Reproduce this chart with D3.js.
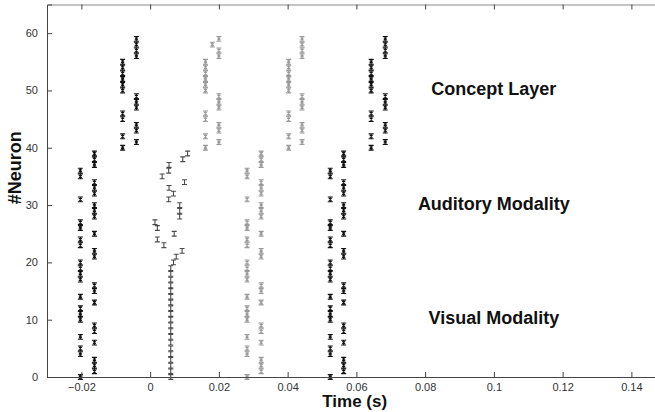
<html>
<head>
<meta charset="utf-8">
<title>Spike raster</title>
<style>
  body { margin: 0; background: #fff; }
  svg { display: block; font-family: 'Liberation Sans', Arial, sans-serif; }
  .tick text { font-size: 11px; fill: #333; }
  .lbl { font-weight: bold; fill: #111; }
</style>
</head>
<body>
<div id="chart"></div>
<script src="https://cdnjs.cloudflare.com/ajax/libs/d3/7.8.5/d3.min.js"></script>
<script>
// neuron groups that fire together (input layer: 0-39, concept layer: 40-59)
const inputFirst = [0, 4, 5, 7, 10, 11, 12, 14, 17, 18, 19, 20, 23, 24, 26, 27, 31, 35, 36]
const inputSecond = [1, 2, 3, 6, 8, 9, 13, 15, 16, 21, 22, 25, 28, 29, 30, 32, 33, 34, 37, 38, 39]
const conceptFirst = [40, 42, 45, 46, 50, 51, 52, 53, 54, 55]
const conceptSecond = [41, 43, 44, 47, 48, 49, 56, 57, 58, 59]

// spike times (s) of each group per presentation
const epochs = ["a", "b", "c"]
const inputFirstTimes = [-0.0203, 0.0282, 0.0524]
const inputSecondTimes = [-0.0162, 0.0323, 0.0563]
const conceptFirstTimes = [-0.0080, 0.0403, 0.0643]
const conceptSecondTimes = [-0.0040, 0.0442, 0.0684]
const epochShade = ["dark", "light", "dark"]

// second presentation: visual neurons 0-19 in one column, auditory ones scattered
const visualNeurons = d3.range(0, 20)
const visualTime = 0.0060
const auditoryNeurons = [20, 21, 22, 23, 24, 25, 26, 27, 28, 29, 30, 31, 32, 33, 34, 35, 36, 37, 38, 39]
const auditoryTimes = [0.0068, 0.0076, 0.0093, 0.0040, 0.0021, 0.0070, 0.0021, 0.0014, 0.0086, 0.0086,
                       0.0086, 0.0054, 0.0068, 0.0055, 0.0100, 0.0035, 0.0054, 0.0055, 0.0095, 0.0109]
const conceptFirstTime2 = 0.0161
const conceptSecondTimes2 = [0.0200, 0.0200, 0.0200, 0.0200, 0.0200, 0.0200, 0.0200, 0.0200, 0.0181, 0.0200]

const xTicks = [-0.02, 0, 0.02, 0.04, 0.06, 0.08, 0.1, 0.12, 0.14]
const yTicks = [0, 10, 20, 30, 40, 50, 60]
const regionLabels = ["Concept Layer", "Auditory Modality", "Visual Modality"]
const regionLabelY = [50, 30, 10]

const shades = { dark: "#111", light: "#9a9a9a", mid: "#4a4a4a" }

// build spike list
const spikes = []
epochs.forEach((e, i) => {
  inputFirst.forEach(n => spikes.push({ t: inputFirstTimes[i], n: n, c: epochShade[i] }))
  inputSecond.forEach(n => spikes.push({ t: inputSecondTimes[i], n: n, c: epochShade[i] }))
  conceptFirst.forEach(n => spikes.push({ t: conceptFirstTimes[i], n: n, c: epochShade[i] }))
  conceptSecond.forEach(n => spikes.push({ t: conceptSecondTimes[i], n: n, c: epochShade[i] }))
})
visualNeurons.forEach(n => spikes.push({ t: visualTime, n: n, c: "mid" }))
auditoryNeurons.forEach((n, i) => spikes.push({ t: auditoryTimes[i], n: n, c: "mid" }))
conceptFirst.forEach(n => spikes.push({ t: conceptFirstTime2, n: n, c: "light" }))
conceptSecond.forEach((n, i) => spikes.push({ t: conceptSecondTimes2[i], n: n, c: "light" }))

const width = 655, height = 412
const margin = { top: 4.5, left: 47, bottom: 35 }

const x = d3.scaleLinear().domain([-0.03, 0.15]).range([margin.left, margin.left + 0.18 * 3437.5])
const y = d3.scaleLinear().domain([0, 65]).range([height - margin.bottom, margin.top])

const svg = d3.select("#chart").append("svg")
  .attr("width", width)
  .attr("height", height)

// spikes: small I-beam marks, the regular columns with a cross inside
const beam = "M-2.5,-2.4H2.5M-2.5,2.4H2.5M0,-2.4V2.4"
const cross = "M-1.5,-1.2L1.5,1.2M-1.5,1.2L1.5,-1.2"
svg.append("g").selectAll("path")
  .data(spikes)
  .join("path")
  .attr("transform", d => `translate(${x(d.t)},${y(d.n)})`)
  .attr("d", d => d.c === "mid" ? beam : beam + cross)
  .attr("fill", "none")
  .attr("stroke", d => shades[d.c])
  .attr("stroke-width", 1.1)

// axes (ticks point inwards)
const xAxis = svg.append("g")
  .attr("transform", `translate(0,${y(0)})`)
  .call(d3.axisBottom(x).tickValues(xTicks).tickSize(-5).tickPadding(6).tickFormat(d3.format("")))
const xTop = svg.append("g")
  .attr("transform", `translate(0,${margin.top})`)
  .call(d3.axisTop(x).tickValues(xTicks).tickSize(-5).tickFormat(""))
const yAxis = svg.append("g")
  .attr("transform", `translate(${margin.left},0)`)
  .call(d3.axisLeft(y).tickValues(yTicks).tickSize(-5).tickPadding(9))

;[xAxis, xTop, yAxis].forEach(g => {
  g.select(".domain").attr("stroke", "#444")
  g.selectAll(".tick line").attr("stroke", "#444")
})
xTop.select(".domain").attr("stroke", "#888")

// axis titles
svg.append("text")
  .attr("class", "lbl")
  .attr("x", x(0.0595))
  .attr("y", 407)
  .attr("text-anchor", "middle")
  .attr("font-size", 17)
  .text("Time (s)")

svg.append("text")
  .attr("class", "lbl")
  .attr("transform", `translate(21,${y(36.5)}) rotate(-90)`)
  .attr("text-anchor", "middle")
  .attr("font-size", 18)
  .text("#Neuron")

// region labels
svg.append("g").selectAll("text")
  .data(regionLabels)
  .join("text")
  .attr("class", "lbl")
  .attr("x", x(0.1))
  .attr("y", (d, i) => y(regionLabelY[i]))
  .attr("dy", "0.25em")
  .attr("text-anchor", "middle")
  .attr("font-size", 18)
  .text(d => d)
</script>
</body>
</html>
